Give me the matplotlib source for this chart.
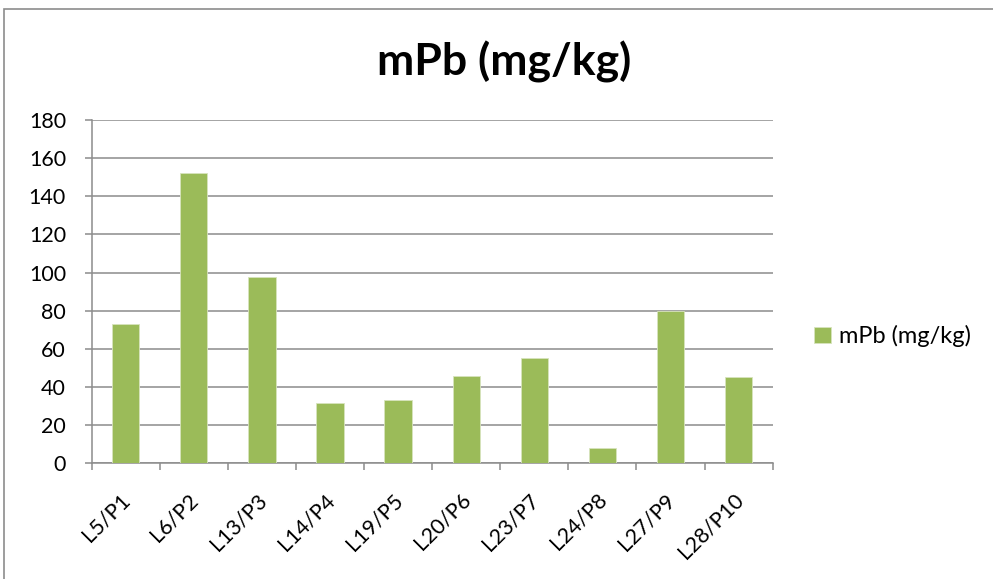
import matplotlib
matplotlib.use("Agg")
import matplotlib.pyplot as plt
from matplotlib.patches import Rectangle

plt.rcParams['font.family'] = ['Lato', 'DejaVu Sans']

# sample sites and lead content
sites = ["L5/P1", "L6/P2", "L13/P3", "L14/P4", "L19/P5",
         "L20/P6", "L23/P7", "L24/P8", "L27/P9", "L28/P10"]
mpb = [72.9, 152.4, 97.5, 31.6, 33.0, 45.9, 55.2, 7.9, 79.9, 45.4]
yticks = list(range(0, 181, 20))
series_name = "mPb (mg/kg)"

bar_color = "#9BBB59"
grid_color = "#8C8C8C"

fig = plt.figure(figsize=(9.93, 5.79), dpi=100)
ax = fig.add_axes([0.0923, 0.1998, 0.6858, 0.5929])

x = list(range(len(sites)))
ax.bar(x, mpb, width=0.4, color=bar_color, edgecolor="#D7E4BD",
       linewidth=0.6, label=series_name, zorder=3)

ax.set_xlim(-0.5, len(sites) - 0.5)
ax.set_ylim(0, 180)
ax.set_yticks(yticks)
ax.set_yticklabels([str(v) for v in yticks], fontsize=15.5)
ax.yaxis.grid(True, color=grid_color, linewidth=1.1, zorder=0)
ax.set_axisbelow(True)

# category ticks sit on the boundaries between bars
ax.set_xticks([i - 0.5 for i in range(len(sites) + 1)])
ax.set_xticklabels([])
ax.set_xticks(x, minor=True)
ax.set_xticklabels(sites, minor=True, rotation=45, ha="right",
                   va="center_baseline", rotation_mode="anchor",
                   fontsize=15.5)
ax.tick_params(axis="x", which="minor", length=0, pad=23)
ax.tick_params(axis="x", which="major", length=5, color=grid_color, width=1.1)
ax.tick_params(axis="y", length=5, color=grid_color, width=1.1, pad=13.5)

for side in ("top", "right"):
    ax.spines[side].set_visible(False)
for side in ("left", "bottom"):
    ax.spines[side].set_color(grid_color)
    ax.spines[side].set_linewidth(1.1)

fig.text(0.508, 0.893, series_name, ha="center", va="center",
         fontsize=32, fontweight="bold")

ax.legend(loc="center left", bbox_to_anchor=(1.03, 0.37), frameon=False,
          fontsize=17, handlelength=0.7, handleheight=0.7, handletextpad=0.35)

# outer chart border
fig.patches.append(Rectangle((4 / 993, -0.1), 1.2, 1.1 - 9 / 579,
                             transform=fig.transFigure, fill=False,
                             edgecolor="#8C8C8C", linewidth=1.2))

fig.savefig("out.png", dpi=100)
